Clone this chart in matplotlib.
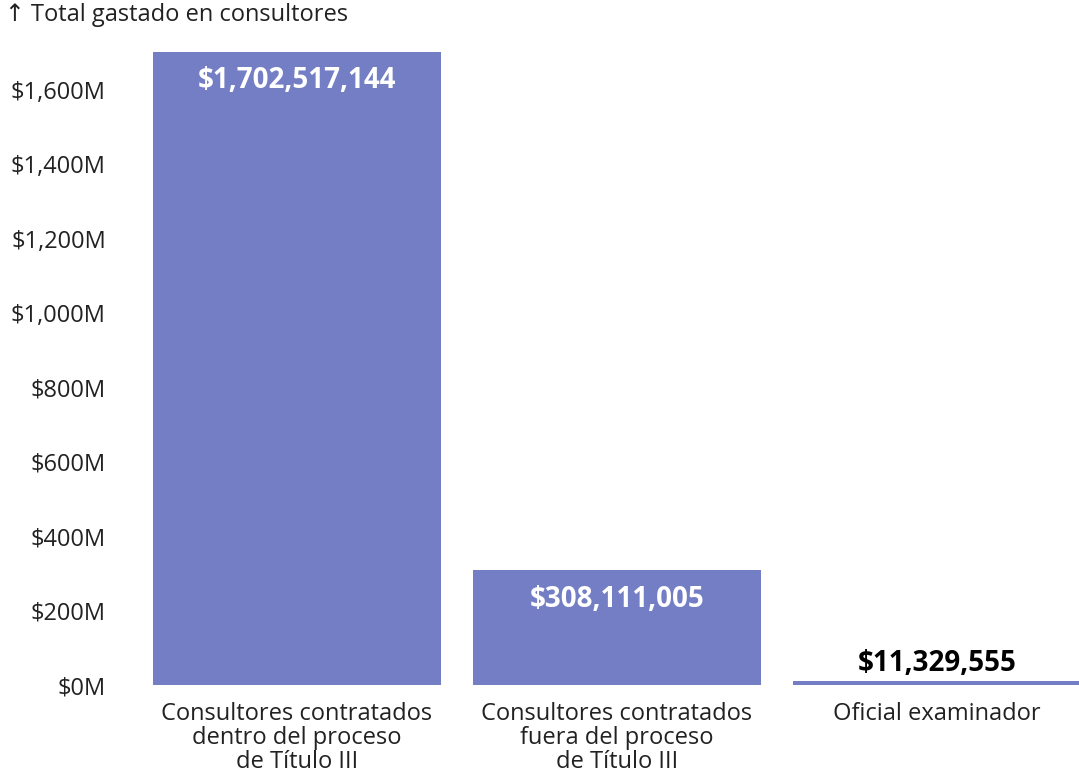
import numpy as np
import matplotlib.pyplot as plt

plt.rcParams['font.family'] = ['Open Sans', 'DejaVu Sans']

categories = ['Consultores contratados\ndentro del proceso\nde Título III',
              'Consultores contratados\nfuera del proceso\nde Título III',
              'Oficial examinador']
values = [1702517144, 308111005, 11329555]
value_labels = ['$1,702,517,144', '$308,111,005', '$11,329,555']
yticks = [0, 200, 400, 600, 800, 1000, 1200, 1400, 1600]

bar_color = '#747EC4'
text_color = '#222222'

W, H = 1079, 775
fig = plt.figure(figsize=(W / 100, H / 100), dpi=100)
ax = fig.add_axes([153 / W, (H - 685) / H, 928 / W, 633 / H])

x = np.arange(len(categories))
vals_m = np.array(values) / 1e6
ax.bar(x, vals_m, width=0.9, color=bar_color)

ax.set_xlim(-0.45, 2.45)
ax.set_ylim(0, vals_m.max())

for spine in ax.spines.values():
    spine.set_visible(False)

ax.set_yticks(yticks)
ax.set_yticklabels(['$%sM' % format(t, ',') for t in yticks], fontsize=17, color=text_color)
ax.tick_params(axis='y', length=0, pad=34)
ax.set_xticks(x)
ax.set_xticklabels(categories, fontsize=17, color=text_color, linespacing=1.0)
ax.tick_params(axis='x', length=0, pad=12)

for i, (v, lab) in enumerate(zip(vals_m, value_labels)):
    if v > 100:
        ax.annotate(lab, (x[i], v), xytext=(0, -29), textcoords='offset pixels',
                    ha='center', va='center', color='white', fontsize=20, fontweight='bold')
    else:
        ax.annotate(lab, (x[i], v), xytext=(0, 17), textcoords='offset pixels',
                    ha='center', va='center', color='black', fontsize=20, fontweight='bold')

fig.text(5 / W, 1 - 15 / H, '↑ Total gastado en consultores', fontsize=17,
         color=text_color, ha='left', va='center')

fig.savefig('out.png', dpi=100, facecolor='white')
